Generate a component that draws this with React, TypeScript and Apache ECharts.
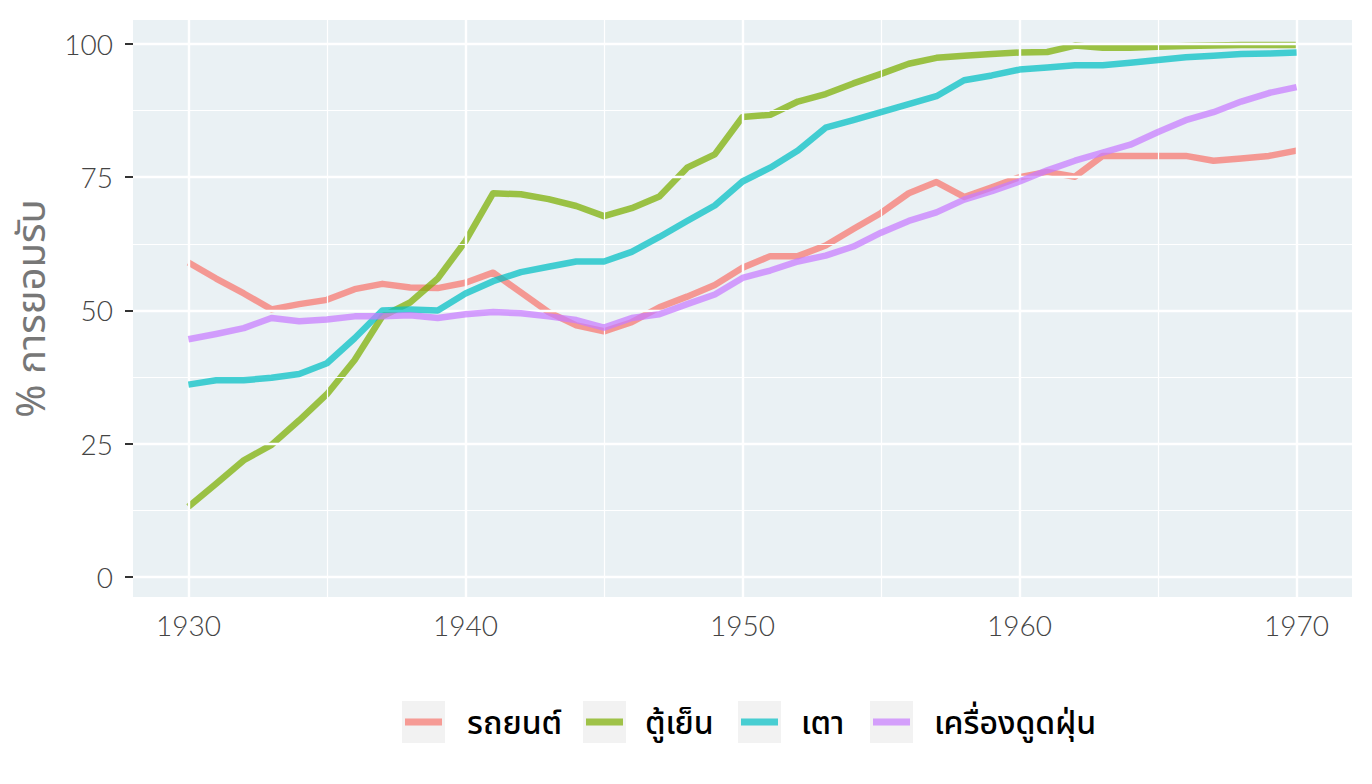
import React, { useEffect, useRef } from 'react';
import * as echarts from 'echarts';

// ปี (แกน x)
const years = [
    1930, 1931, 1932, 1933, 1934, 1935, 1936, 1937, 1938, 1939,
    1940, 1941, 1942, 1943, 1944, 1945, 1946, 1947, 1948, 1949,
    1950, 1951, 1952, 1953, 1954, 1955, 1956, 1957, 1958, 1959,
    1960, 1961, 1962, 1963, 1964, 1965, 1966, 1967, 1968, 1969, 1970
];

const seriesNames = ['รถยนต์', 'ตู้เย็น', 'เตา', 'เครื่องดูดฝุ่น'];

// % การยอมรับ ของแต่ละอุปกรณ์
const car = [
    59, 56, 53.2, 50.2, 51.2, 52, 54, 55, 54.3, 54.2,
    55.2, 57.1, 53.4, 49.7, 47.2, 46.1, 47.8, 50.6, 52.6, 54.8,
    58, 60.2, 60.2, 62.2, 65.3, 68.3, 72, 74.1, 71.3, 73.1,
    75, 76, 75.1, 79, 79, 79, 79, 78.1, 78.5, 79, 80
];
const fridge = [
    13.2, 17.5, 21.9, 24.8, 29.4, 34.3, 40.7, 48.9, 51.5, 56,
    63, 72, 71.8, 70.9, 69.6, 67.7, 69.2, 71.4, 76.8, 79.3,
    86.3, 86.7, 89.2, 90.6, 92.6, 94.4, 96.3, 97.4, 97.8, 98.1,
    98.4, 98.5, 99.7, 99.3, 99.3, 99.5, 99.6, 99.7, 99.8, 99.8, 99.8
];
const stove = [
    36.1, 36.9, 36.9, 37.4, 38.1, 40.1, 44.8, 50, 50.2, 50,
    53.2, 55.5, 57.2, 58.2, 59.2, 59.2, 61, 63.8, 66.8, 69.7,
    74.2, 76.8, 80, 84.3, 85.7, 87.2, 88.7, 90.2, 93.2, 94.1,
    95.2, 95.6, 96, 96, 96.5, 97, 97.5, 97.8, 98.1, 98.2, 98.4
];
const vacuum = [
    44.6, 45.6, 46.7, 48.6, 48, 48.3, 48.9, 48.9, 49.1, 48.6,
    49.3, 49.7, 49.5, 48.9, 48.2, 46.8, 48.6, 49.3, 51.2, 53,
    56.1, 57.5, 59.2, 60.3, 62, 64.6, 66.8, 68.4, 70.8, 72.4,
    74.2, 76.3, 78.1, 79.6, 81.1, 83.5, 85.7, 87.2, 89.2, 90.8, 91.9
];
const allSeries = [car, fridge, stove, vacuum];

const colors = ['#F8766D', '#7CAE00', '#00BFC4', '#C77CFF'];

const xTicks = [1930, 1940, 1950, 1960, 1970];
const xMinor = [1935, 1945, 1955, 1965];
const yTicks = [0, 25, 50, 75, 100];
const yMinor = [12.5, 37.5, 62.5, 87.5];

// ตำแหน่งของคำอธิบาย (legend) ด้านล่าง
const legendBoxX = [402, 583, 738, 870];
const legendTextX = [467, 645, 801, 934];

const numFont = 'Lato, "Noto Sans", sans-serif';
const thaiFont = '"Noto Sans Thai", "Noto Sans Thai UI", Lato, "Noto Sans", sans-serif';

const App: React.FC = () => {
    const chartRef = useRef<HTMLDivElement>(null);

    useEffect(() => {
        if (!chartRef.current) return;
        const myChart = echarts.init(chartRef.current, null, { renderer: 'svg' });

        const gridLines = [
            ...xTicks.map((v) => ({ xAxis: v, lineStyle: { width: 2.4 } })),
            ...xMinor.map((v) => ({ xAxis: v, lineStyle: { width: 1.2 } })),
            ...yTicks.map((v) => ({ yAxis: v, lineStyle: { width: 2.4 } })),
            ...yMinor.map((v) => ({ yAxis: v, lineStyle: { width: 1.2 } }))
        ];

        const legendItems: any[] = [];
        seriesNames.forEach((name, i) => {
            legendItems.push({
                type: 'rect',
                shape: { x: legendBoxX[i], y: 701, width: 43, height: 42 },
                style: { fill: '#F2F2F2' }
            });
            legendItems.push({
                type: 'rect',
                shape: { x: legendBoxX[i] + 3, y: 718.5, width: 37, height: 7 },
                style: { fill: colors[i], opacity: 0.7 }
            });
            legendItems.push({
                type: 'text',
                x: legendTextX[i],
                y: 724,
                style: {
                    text: name,
                    fill: '#000',
                    font: `500 32px ${thaiFont}`,
                    verticalAlign: 'middle',
                    align: 'left'
                }
            });
        });

        const option: echarts.EChartsOption = {
            animation: false,
            backgroundColor: '#fff',
            grid: {
                left: 133,
                right: 20,
                top: 20,
                bottom: 187,
                show: true,
                backgroundColor: '#EAF1F4',
                borderWidth: 0
            },
            xAxis: {
                type: 'value',
                min: 1928,
                max: 1972,
                axisLine: { show: false },
                axisTick: {
                    show: true,
                    length: 8,
                    customValues: xTicks,
                    lineStyle: { color: '#333', width: 2 }
                },
                axisLabel: {
                    customValues: xTicks,
                    margin: 14,
                    color: '#444',
                    fontSize: 28,
                    fontWeight: 300,
                    fontFamily: numFont,
                    formatter: (v: number) => String(v)
                },
                splitLine: { show: false }
            } as any,
            yAxis: {
                type: 'value',
                min: -3.75,
                max: 104.5,
                name: '% การยอมรับ',
                nameLocation: 'middle',
                nameGap: 80,
                nameTextStyle: {
                    color: '#777',
                    fontSize: 40,
                    fontFamily: thaiFont
                },
                axisLine: { show: false },
                axisTick: {
                    show: true,
                    length: 8,
                    customValues: yTicks,
                    lineStyle: { color: '#333', width: 2 }
                },
                axisLabel: {
                    customValues: yTicks,
                    margin: 20,
                    color: '#444',
                    fontSize: 28,
                    fontWeight: 300,
                    fontFamily: numFont
                },
                splitLine: { show: false }
            } as any,
            graphic: legendItems,
            series: [
                {
                    type: 'line',
                    name: 'grid',
                    data: [],
                    z: 1,
                    silent: true,
                    markLine: {
                        silent: true,
                        symbol: ['none', 'none'],
                        label: { show: false },
                        lineStyle: { color: '#fff', type: 'solid', width: 2 },
                        data: gridLines as any
                    }
                },
                ...allSeries.map((vals, i) => ({
                    type: 'line' as const,
                    name: seriesNames[i],
                    data: years.map((y, j) => [y, vals[j]]),
                    showSymbol: false,
                    symbol: 'none',
                    z: 3 + i,
                    lineStyle: {
                        color: colors[i],
                        width: 6.5,
                        opacity: 0.72,
                        cap: 'butt' as const,
                        join: 'round' as const
                    }
                }))
            ]
        };

        myChart.setOption(option);

        const handleResize = () => {
            myChart.resize();
        };
        window.addEventListener('resize', handleResize);
        return () => {
            window.removeEventListener('resize', handleResize);
            myChart.dispose();
        };
    }, []);

    return (
        <div
            ref={chartRef}
            style={{ position: 'fixed', left: 0, top: 0, width: '1372px', height: '784px' }}
        />
    );
};

export default App;
